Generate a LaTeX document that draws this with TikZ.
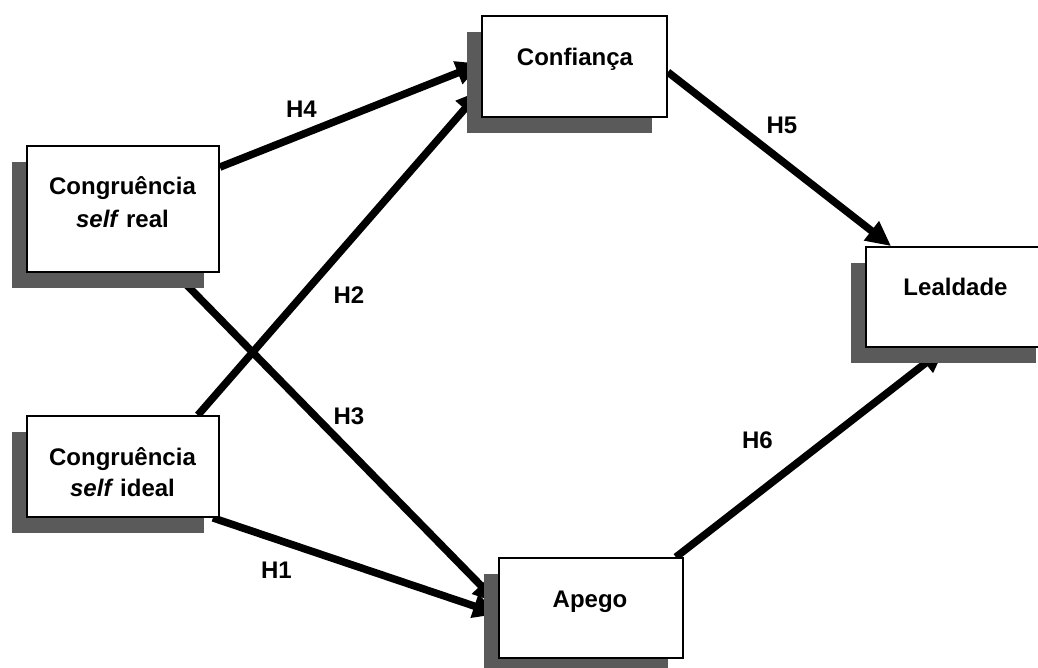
\documentclass[tikz,border=0pt]{standalone}
\usepackage{fontspec}
\setmainfont{Liberation Sans}
\usetikzlibrary{arrows.meta,shadows,calc}
\definecolor{shadowgray}{RGB}{90,90,90}
\pgfdeclarelayer{bg}
\pgfsetlayers{bg,main}
\begin{document}
\begin{tikzpicture}[x=1pt,y=-1pt,
  box/.style={draw=black,line width=1.8pt,fill=white,inner sep=0pt,
    drop shadow={shadow xshift=-15.5pt,shadow yshift=-15.5pt,
      fill=shadowgray,opacity=1,draw=none}},
  txt/.style={anchor=base,inner sep=0pt,font=\fontsize{24}{28}\selectfont\bfseries},
  hyp/.style={anchor=base,inner sep=0pt,font=\fontsize{24}{28}\selectfont\bfseries},
  link/.style={line width=7.5pt,-{Triangle[length=25pt,width=23pt]}}]
\useasboundingbox (0,0) rectangle (1038,667);

% construct boxes
\node[box,minimum width=192pt,minimum height=126pt] (real)  at (123,209)   {};
\node[box,minimum width=192pt,minimum height=101pt] (ideal) at (123,466.5) {};
\node[box,minimum width=185pt,minimum height=101pt] (conf)  at (574.5,66.5){};
\node[box,minimum width=184pt,minimum height=100pt] (apego) at (591,608)   {};
\node[box,minimum width=185pt,minimum height=100pt] (leal)  at (958.5,297) {};

% box captions
\node[txt] (realA)  at (122.5,194)   {Congruência};
\node[txt] (realB)  at (122.5,227.7) {\textit{self} real};
\node[txt] (idealA) at (122.5,465)   {Congruência};
\node[txt] (idealB) at (122.5,496.7) {\textit{self} ideal};
\node[txt] (confT)  at (575,65)      {Confiança};
\node[txt] (apegoT) at (590,607)     {Apego};
\node[txt] (lealT)  at (955.5,295)   {Lealdade};

% paths between constructs (behind the boxes)
\begin{pgfonlayer}{bg}
\draw[link] ($(real.north east)+(0,22)$)   -- ($(conf.north west)+(0,48.5)$);
\draw[link] ($(ideal.north east)+(-22,0)$) -- ($(conf.north west)+(0,75)$);
\draw[link] ($(real.south east)+(-45,0)$)  -- ($(apego.north west)+(0,46)$);
\draw[link] ($(ideal.south east)+(-7,0)$)  -- ($(apego.north west)+(0,57)$);
\draw[link] ($(conf.north east)+(0,57)$)   -- ($(leal.north west)+(26,0)$);
\draw[link] ($(apego.north east)+(-8,0)$)  -- ($(leal.south west)+(80,0)$);
\end{pgfonlayer}

% hypothesis labels
\node[hyp] (h4) at (301.5,117) {H4};
\node[hyp] (h2) at (349,303)   {H2};
\node[hyp] (h3) at (349,424)   {H3};
\node[hyp] (h1) at (276.5,578) {H1};
\node[hyp] (h5) at (782,133)   {H5};
\node[hyp] (h6) at (757.5,448) {H6};
\end{tikzpicture}
\end{document}
